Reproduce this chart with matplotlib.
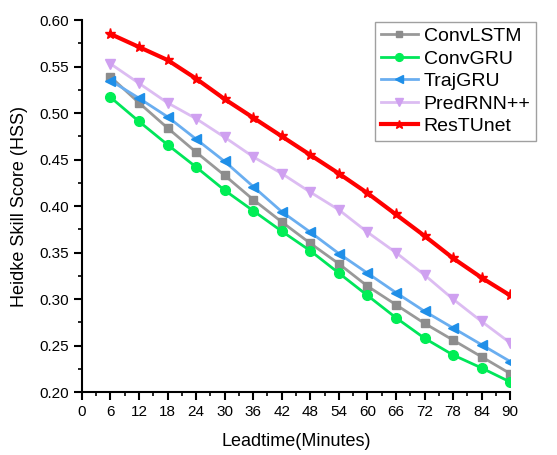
import numpy as np
import matplotlib
matplotlib.use("Agg")
from matplotlib import pyplot as plt
from matplotlib.ticker import MultipleLocator

plt.rcParams['font.family'] = ['Liberation Sans', 'DejaVu Sans']

leadtime = [6, 12, 18, 24, 30, 36, 42, 48, 54, 60, 66, 72, 78, 84, 90]
convlstm = [0.539, 0.511, 0.484, 0.458, 0.433, 0.407, 0.383, 0.360, 0.338, 0.314,
            0.294, 0.274, 0.256, 0.238, 0.220]
convgru = [0.517, 0.491, 0.466, 0.442, 0.417, 0.395, 0.373, 0.352, 0.328, 0.304,
           0.280, 0.258, 0.240, 0.226, 0.211]
trajgru = [0.535, 0.516, 0.496, 0.472, 0.448, 0.421, 0.394, 0.372, 0.349, 0.328,
           0.307, 0.287, 0.269, 0.251, 0.233]
predrnn = [0.553, 0.532, 0.511, 0.494, 0.474, 0.453, 0.435, 0.415, 0.396, 0.372,
           0.350, 0.326, 0.300, 0.276, 0.253]
restunet = [0.585, 0.571, 0.557, 0.537, 0.515, 0.495, 0.475, 0.455, 0.435, 0.414,
            0.391, 0.368, 0.344, 0.323, 0.304]

fig = plt.figure(figsize=(5.57, 4.55), dpi=100)
ax = fig.add_axes([0.147, 0.138, 0.769, 0.818])

ax.plot(leadtime, convlstm, color='#999999', lw=2, marker='s', ms=6,
        mfc='#8c8c8c', mec='#8c8c8c', label='ConvLSTM')
ax.plot(leadtime, convgru, color='#00e65a', lw=2, marker='o', ms=7,
        mfc='#00ee55', mec='#00ee55', label='ConvGRU')
ax.plot(leadtime, trajgru, color='#6aaef0', lw=2, marker='<', ms=7,
        mfc='#1f8fe8', mec='#1f8fe8', label='TrajGRU')
ax.plot(leadtime, predrnn, color='#dcbcf2', lw=2, marker='v', ms=7,
        mfc='#cfa0f0', mec='#cfa0f0', label='PredRNN++')
ax.plot(leadtime, restunet, color='#ff0000', lw=3, marker='*', ms=8,
        mfc='#ff0000', mec='#ff0000', label='ResTUnet')

ax.set_xlim(0, 90)
ax.set_ylim(0.20, 0.60)
ax.xaxis.set_major_locator(MultipleLocator(6))
ax.xaxis.set_minor_locator(MultipleLocator(3))
ax.yaxis.set_major_locator(MultipleLocator(0.05))
ax.yaxis.set_minor_locator(MultipleLocator(0.025))
ax.yaxis.set_major_formatter(matplotlib.ticker.FormatStrFormatter('%.2f'))
ax.tick_params(which='major', direction='out', length=6, width=1.5, labelsize=11)
ax.tick_params(which='minor', direction='out', length=3, width=1.2)

for side in ['top', 'right']:
    ax.spines[side].set_visible(False)
for side in ['left', 'bottom']:
    ax.spines[side].set_linewidth(1.5)

ax.set_xlabel('Leadtime(Minutes)', fontsize=13, labelpad=10)
ax.set_ylabel('Heidke Skill Score (HSS)', fontsize=13, labelpad=8)

leg = ax.legend(loc='upper right', bbox_to_anchor=(0.963, 0.952),
                bbox_transform=fig.transFigure, fontsize=14,
                frameon=True, fancybox=False, edgecolor='#888888',
                handlelength=1.9, handletextpad=0.3, borderpad=0.3,
                labelspacing=0.25, borderaxespad=0.0, markerscale=0.8)
leg.get_frame().set_linewidth(1.0)

fig.savefig('out.png', dpi=100)
